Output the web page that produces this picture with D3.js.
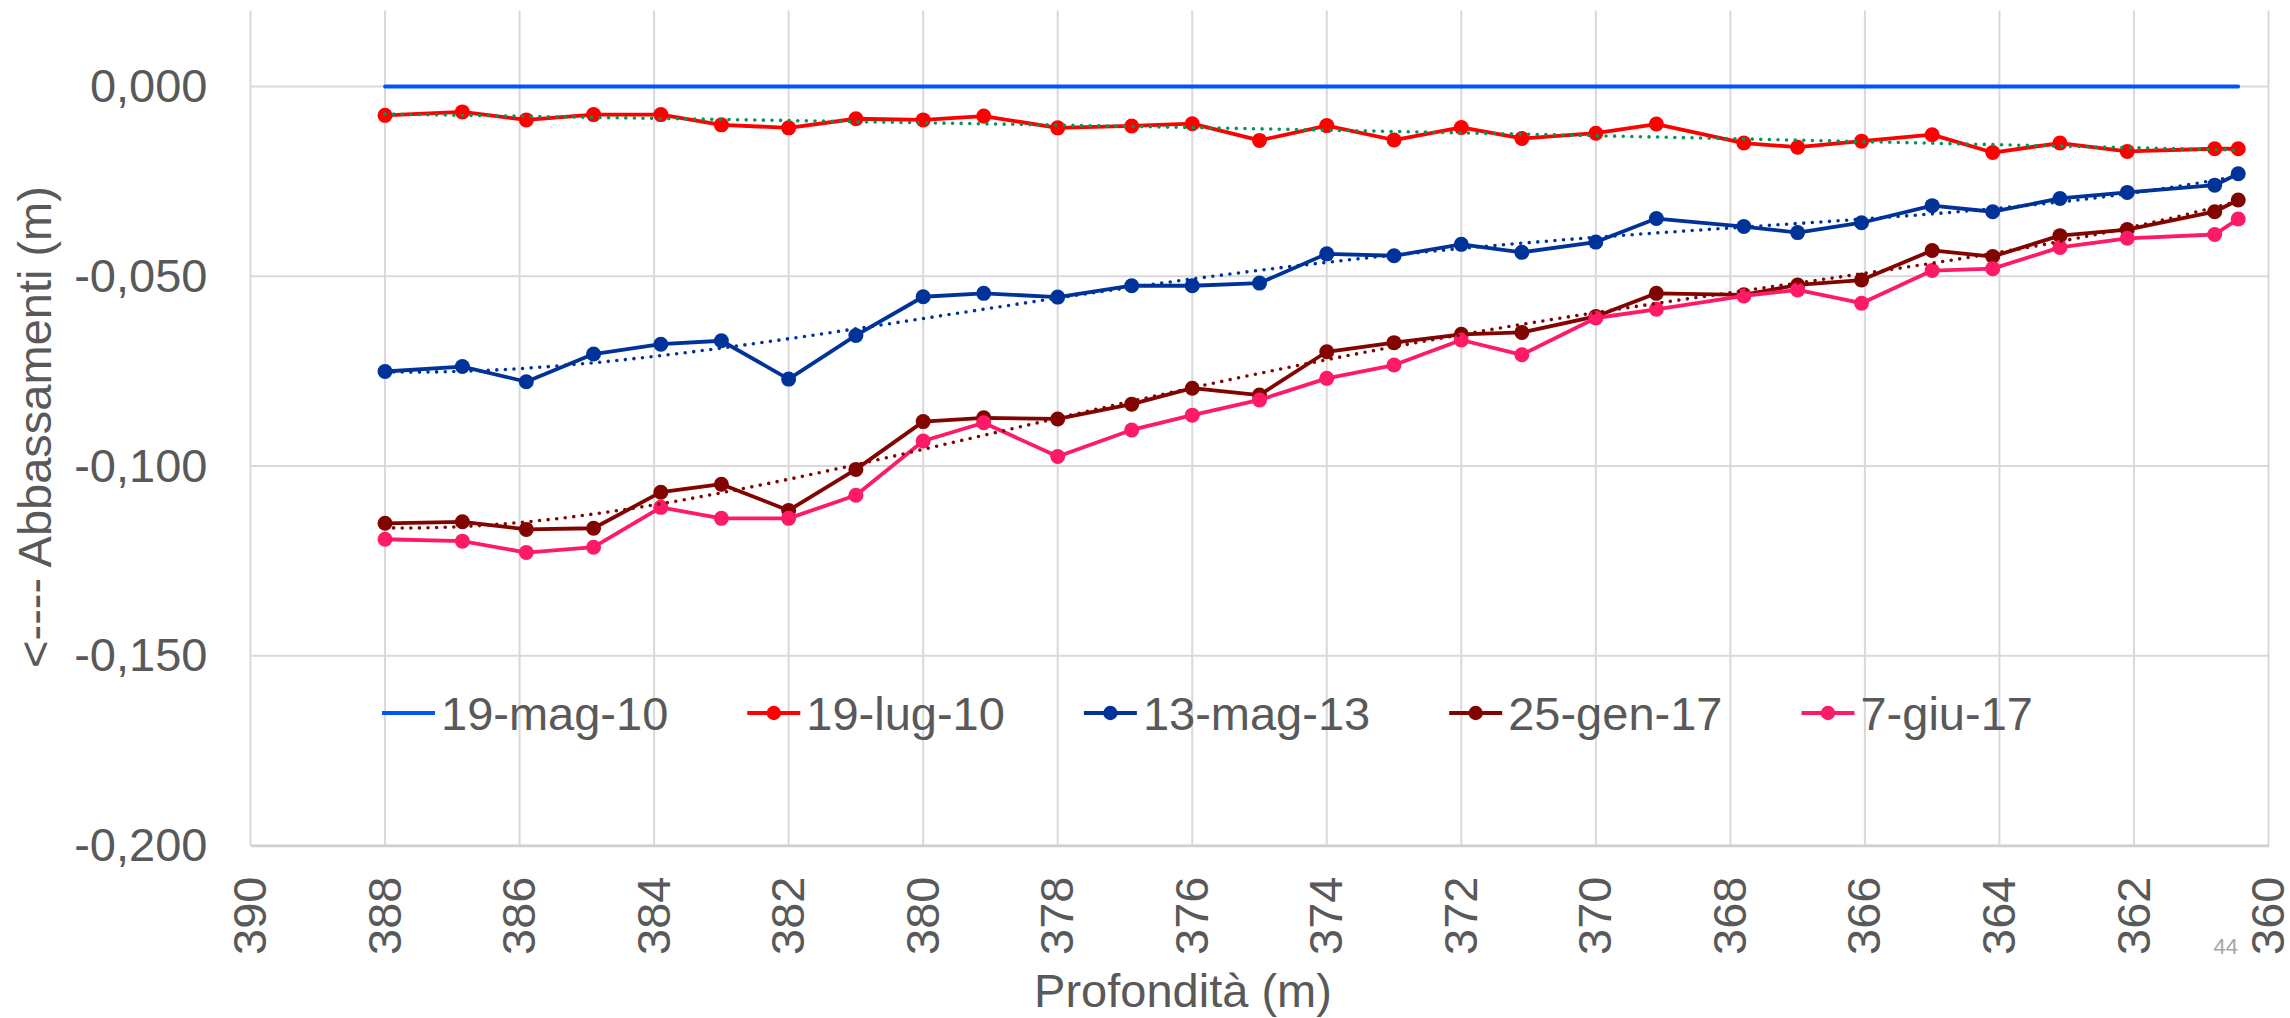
<!DOCTYPE html>
<html>
<head>
<meta charset="utf-8">
<script src="https://cdn.jsdelivr.net/npm/d3@7"></script>
<style>
  html, body { margin: 0; padding: 0; background: #ffffff; }
  svg { display: block; }
  text { font-family: "Liberation Sans", Arial, sans-serif; fill: #595959; }
</style>
</head>
<body>
<svg id="chart" width="2290" height="1018"></svg>
<script>
// ---------- DATA ----------
const depths = [388, 386.85, 385.9, 384.9, 383.9, 383.0, 382.0, 381.0, 380.0, 379.1,
                378.0, 376.9, 376.0, 375.0, 374.0, 373.0, 372.0, 371.1, 370.0, 369.1,
                367.8, 367.0, 366.05, 365.0, 364.1, 363.1, 362.1, 360.8, 360.45];

const seriesNames = ["19-mag-10", "19-lug-10", "13-mag-13", "25-gen-17", "7-giu-17"];

const mag10 = [0, 0, 0, 0, 0, 0, 0, 0, 0, 0,
               0, 0, 0, 0, 0, 0, 0, 0, 0, 0,
               0, 0, 0, 0, 0, 0, 0, 0, 0];

const lug10 = [-0.0076, -0.0067, -0.0088, -0.0074, -0.0074, -0.0101, -0.0109, -0.0085, -0.0088, -0.0078,
               -0.0109, -0.0104, -0.0098, -0.0142, -0.0103, -0.0141, -0.0108, -0.0137, -0.0123, -0.0099,
               -0.0149, -0.0160, -0.0144, -0.0127, -0.0174, -0.0149, -0.0171, -0.0164, -0.0164];

const mag13 = [-0.0751, -0.0738, -0.0778, -0.0705, -0.0679, -0.0670, -0.0771, -0.0656, -0.0554, -0.0545,
               -0.0555, -0.0525, -0.0525, -0.0518, -0.0441, -0.0446, -0.0416, -0.0437, -0.0410, -0.0348,
               -0.0369, -0.0385, -0.0359, -0.0314, -0.0330, -0.0295, -0.0279, -0.0260, -0.0230];

const gen17 = [-0.1151, -0.1147, -0.1167, -0.1164, -0.1069, -0.1048, -0.1117, -0.1009, -0.0883, -0.0873,
               -0.0876, -0.0837, -0.0795, -0.0813, -0.0699, -0.0675, -0.0653, -0.0648, -0.0606, -0.0545,
               -0.0549, -0.0523, -0.0510, -0.0432, -0.0448, -0.0393, -0.0377, -0.0330, -0.0299];

const giu17 = [-0.1193, -0.1198, -0.1228, -0.1214, -0.1109, -0.1138, -0.1138, -0.1077, -0.0934, -0.0886,
               -0.0975, -0.0905, -0.0866, -0.0826, -0.0769, -0.0734, -0.0668, -0.0707, -0.0610, -0.0587,
               -0.0552, -0.0536, -0.0571, -0.0485, -0.0480, -0.0424, -0.0400, -0.0390, -0.0349];

const xTickValues = [390, 388, 386, 384, 382, 380, 378, 376, 374, 372, 370, 368, 366, 364, 362, 360];
const yTickValues = [0, -0.05, -0.10, -0.15, -0.20];

const xTitle = "Profondità (m)";
const yTitle = "<---- Abbassamenti (m)";
const pageNumber = "44";

// ---------- STYLE ----------
const seriesValues = [mag10, lug10, mag13, gen17, giu17];
const seriesColors = ["#0055ff", "#ff0000", "#003399", "#820400", "#ff1a66"];
const seriesMarkers = [false, true, true, true, true];
const trendFor = { 1: "#00965a", 2: "#003399", 3: "#820400" };
const trendOrder = 4;
const FS = 47;

const svg = d3.select("#chart");
const plot = { left: 250.5, right: 2268.5, top: 10.6, bottom: 845.5 };

const x = d3.scaleLinear().domain([390, 360]).range([plot.left, plot.right]);
const y = d3.scaleLinear().domain([-0.2, 0.02]).range([plot.bottom, plot.top]);

const itLocale = d3.formatLocale({ decimal: ",", thousands: ".", grouping: [3], currency: ["€", ""], minus: "-" });
const yFmt = itLocale.format(".3f");

// gridlines
const grid = svg.append("g");
grid.selectAll("line.v").data(xTickValues).join("line")
  .attr("x1", d => x(d)).attr("x2", d => x(d))
  .attr("y1", plot.top).attr("y2", plot.bottom)
  .attr("stroke", "#d9d9d9").attr("stroke-width", 2);
grid.selectAll("line.h").data(yTickValues).join("line")
  .attr("x1", plot.left).attr("x2", plot.right)
  .attr("y1", d => y(d)).attr("y2", d => y(d))
  .attr("stroke", "#d9d9d9").attr("stroke-width", 2);

// axes (labels only)
const yAxis = d3.axisLeft(y).tickValues(yTickValues).tickFormat(yFmt).tickSize(0).tickPadding(43);
const gy = svg.append("g").attr("transform", `translate(${plot.left},0)`).call(yAxis);
gy.select(".domain").remove();
gy.selectAll("text").attr("font-size", FS).attr("fill", "#595959")
  .attr("font-family", "Liberation Sans, Arial, sans-serif");

const xAxis = d3.axisBottom(x).tickValues(xTickValues).tickFormat(d3.format("d")).tickSize(0);
const gx = svg.append("g").attr("transform", `translate(0,${plot.bottom})`).call(xAxis);
gx.select(".domain").attr("stroke", "#d0d0d0").attr("stroke-width", 2.5);
gx.selectAll("text")
  .attr("font-size", FS).attr("fill", "#595959")
  .attr("font-family", "Liberation Sans, Arial, sans-serif")
  .attr("text-anchor", "end")
  .attr("transform", "rotate(-90)")
  .attr("x", -31).attr("y", 0).attr("dy", "0.32em");

// titles
svg.append("text").attr("x", 1183).attr("y", 1007).attr("text-anchor", "middle")
  .attr("font-size", FS).text(xTitle);
svg.append("text").attr("transform", "translate(51,427) rotate(-90)").attr("text-anchor", "middle")
  .attr("font-size", FS).text(yTitle);

// series
const line = d3.line().x(d => x(d[0])).y(d => y(d[1]));
seriesValues.forEach((vals, i) => {
  const pts = depths.map((d, k) => [d, vals[k]]);
  const g = svg.append("g");
  g.append("path").datum(pts).attr("d", line)
    .attr("fill", "none").attr("stroke", seriesColors[i]).attr("stroke-width", 3.8)
    .attr("stroke-linejoin", "round").attr("stroke-linecap", "round");
  if (seriesMarkers[i]) {
    g.selectAll("circle").data(pts).join("circle")
      .attr("cx", d => x(d[0])).attr("cy", d => y(d[1])).attr("r", 7.5)
      .attr("fill", seriesColors[i]);
  }
});

// polynomial least-squares trendlines (as in the spreadsheet), computed from the data
function polyFit(xs, ys, order) {
  const m = d3.mean(xs);
  const s = (d3.max(xs) - d3.min(xs)) / 2;
  const n = order + 1;
  const A = Array.from({ length: n }, () => new Array(n + 1).fill(0));
  xs.forEach((xv, k) => {
    const u = (xv - m) / s;
    for (let r = 0; r < n; r++) {
      for (let c = 0; c < n; c++) A[r][c] += Math.pow(u, r + c);
      A[r][n] += Math.pow(u, r) * ys[k];
    }
  });
  for (let c = 0; c < n; c++) {
    let p = c;
    for (let r = c + 1; r < n; r++) if (Math.abs(A[r][c]) > Math.abs(A[p][c])) p = r;
    [A[c], A[p]] = [A[p], A[c]];
    for (let r = c + 1; r < n; r++) {
      const f = A[r][c] / A[c][c];
      for (let k = c; k <= n; k++) A[r][k] -= f * A[c][k];
    }
  }
  const b = new Array(n).fill(0);
  for (let r = n - 1; r >= 0; r--) {
    let t = A[r][n];
    for (let k = r + 1; k < n; k++) t -= A[r][k] * b[k];
    b[r] = t / A[r][r];
  }
  return v => b.reduce((acc, coef, j) => acc + coef * Math.pow((v - m) / s, j), 0);
}
Object.keys(trendFor).forEach(key => {
  const i = +key;
  const f = polyFit(depths, seriesValues[i], trendOrder);
  const x0 = d3.max(depths), x1 = d3.min(depths);
  const samples = d3.range(0, 161).map(k => { const xv = x0 + (x1 - x0) * k / 160; return [xv, f(xv)]; });
  svg.append("path").datum(samples).attr("d", line)
    .attr("fill", "none").attr("stroke", trendFor[key]).attr("stroke-width", 3.6)
    .attr("stroke-linecap", "round").attr("stroke-dasharray", "0 8.6");
});

// legend
const legend = svg.append("g");
let lx = 382;
const ly = 713;
seriesNames.forEach((name, i) => {
  const item = legend.append("g");
  item.append("line").attr("x1", lx).attr("x2", lx + 53).attr("y1", ly).attr("y2", ly)
    .attr("stroke", seriesColors[i]).attr("stroke-width", 4);
  if (seriesMarkers[i]) {
    item.append("circle").attr("cx", lx + 26.5).attr("cy", ly).attr("r", 7.2).attr("fill", seriesColors[i]);
  }
  const t = item.append("text").attr("x", lx + 59).attr("y", ly + 17).attr("font-size", FS).text(name);
  const w = t.node().getComputedTextLength();
  lx = lx + 59 + w + 79;
});

// page number
svg.append("text").attr("x", 2238).attr("y", 954).attr("text-anchor", "end")
  .attr("font-size", 22).style("fill", "#a6a6a6").text(pageNumber);
</script>
</body>
</html>
